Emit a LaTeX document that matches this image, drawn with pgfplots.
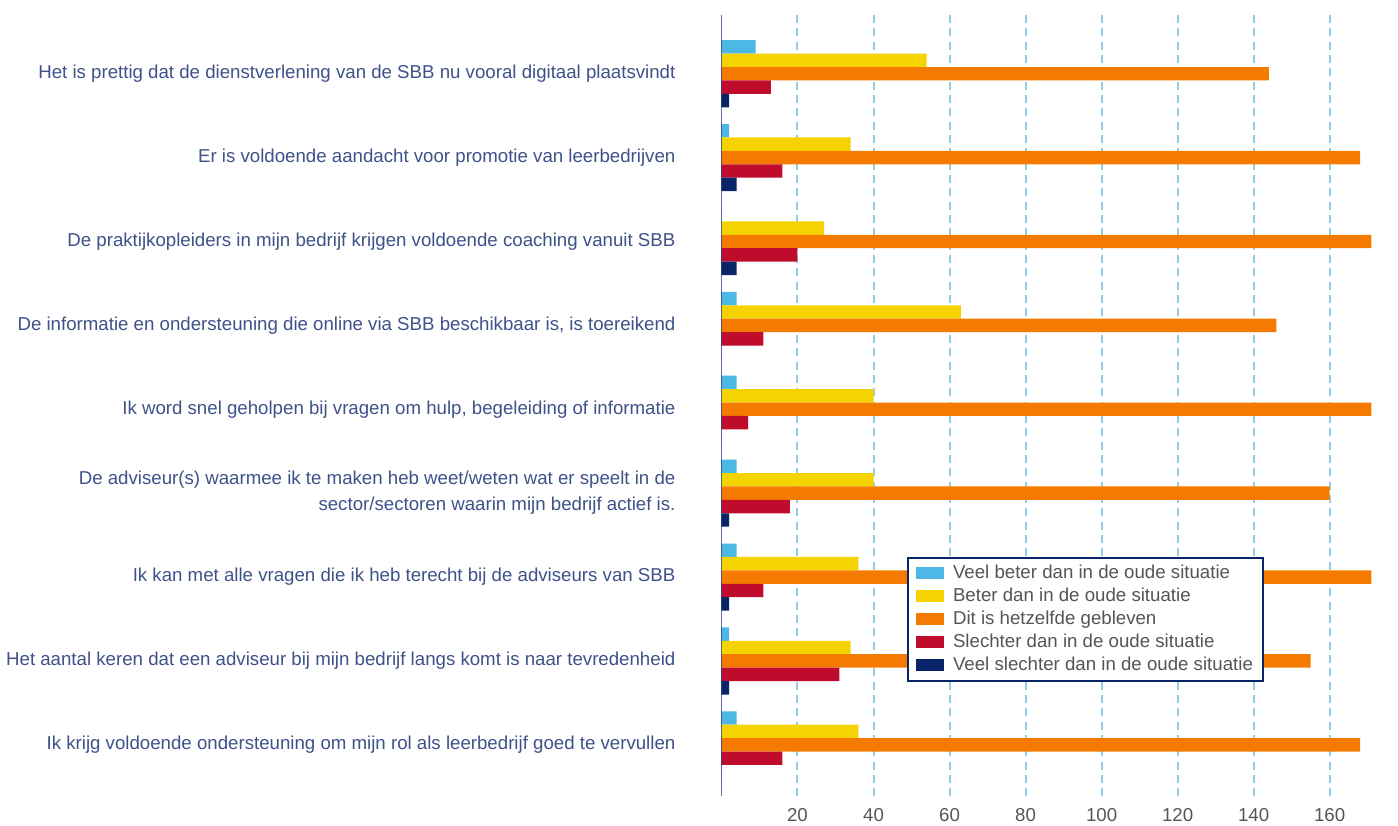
\documentclass[border=0pt]{standalone}
\usepackage{pgfplots}
\pgfplotsset{compat=1.18}
\usepackage{fontspec}
\setmainfont{Liberation Sans}
\definecolor{cBlue}{HTML}{4DB7E6}
\definecolor{cYellow}{HTML}{F5D300}
\definecolor{cOrange}{HTML}{F47B00}
\definecolor{cRed}{HTML}{C00C2C}
\definecolor{cNavy}{HTML}{0A2468}
\definecolor{labelblue}{HTML}{3E5289}
\definecolor{tickgrey}{HTML}{555555}
\definecolor{gridblue}{HTML}{92CDE8}
\begin{document}
\begin{tikzpicture}
\useasboundingbox (0,0) rectangle (1048.5pt,618.75pt);
\begin{axis}[
  at={(541.1pt,21.75pt)}, anchor=south west,
  scale only axis, width=487.5pt, height=585.75pt,
  xbar=0pt, bar width=0.16,
  xmin=0, xmax=171, ymin=-0.70, ymax=8.61, y dir=reverse,
  ytick={0,...,8},
  yticklabels={
    {Het is prettig dat de dienstverlening van de SBB nu vooral digitaal plaatsvindt},
    {Er is voldoende aandacht voor promotie van leerbedrijven},
    {De praktijkopleiders in mijn bedrijf krijgen voldoende coaching vanuit SBB},
    {De informatie en ondersteuning die online via SBB beschikbaar is, is toereikend},
    {Ik word snel geholpen bij vragen om hulp, begeleiding of informatie},
    {De adviseur(s) waarmee ik te maken heb weet/weten wat er speelt in de\\sector/sectoren waarin mijn bedrijf actief is.},
    {Ik kan met alle vragen die ik heb terecht bij de adviseurs van SBB},
    {Het aantal keren dat een adviseur bij mijn bedrijf langs komt is naar tevredenheid},
    {Ik krijg voldoende ondersteuning om mijn rol als leerbedrijf goed te vervullen}
  },
  xtick={20,40,...,160},
  xmajorgrids,
  grid style={gridblue, line width=1.5pt, dash pattern=on 6pt off 4pt},
  axis line style={draw=none},
  major tick length=0pt,
  /pgf/number format/assume math mode=true,
  xticklabel style={font=\fontsize{14}{16}\selectfont, text=tickgrey, yshift=-6pt},
  yticklabel style={font=\fontsize{14}{19.5}\selectfont, text=labelblue, align=right, xshift=-31pt},
  legend style={at={(0.286,0.306)}, anchor=north west, draw=cNavy, line width=1.5pt,
    font=\fontsize{14}{16}\selectfont, text=tickgrey,
    nodes={inner sep=1.5pt, text height=10pt, text depth=3pt},
    row sep=1.25pt, inner xsep=6pt, inner ysep=3.5pt},
  legend cell align=left,
  legend image code/.code={\fill[#1] (0pt,-4.5pt) rectangle (21pt,4.5pt); \path (26pt,0pt);},
]
\addplot[fill=cBlue, draw=none, bar shift=-0.32] coordinates {(9,0) (2,1) (0,2) (4,3) (4,4) (4,5) (4,6) (2,7) (4,8)};
\addplot[fill=cYellow, draw=none, bar shift=-0.16] coordinates {(54,0) (34,1) (27,2) (63,3) (40,4) (40,5) (36,6) (34,7) (36,8)};
\addplot[fill=cOrange, draw=none, bar shift=0] coordinates {(144,0) (168,1) (171,2) (146,3) (171,4) (160,5) (171,6) (155,7) (168,8)};
\addplot[fill=cRed, draw=none, bar shift=0.16] coordinates {(13,0) (16,1) (20,2) (11,3) (7,4) (18,5) (11,6) (31,7) (16,8)};
\addplot[fill=cNavy, draw=none, bar shift=0.32] coordinates {(2,0) (4,1) (4,2) (0,3) (0,4) (2,5) (2,6) (2,7) (0,8)};
\legend{Veel beter dan in de oude situatie, Beter dan in de oude situatie, Dit is hetzelfde gebleven, Slechter dan in de oude situatie, Veel slechter dan in de oude situatie}
\draw[cNavy, line width=1.5pt] (rel axis cs:0,0) -- (rel axis cs:0,1);
\end{axis}
\end{tikzpicture}
\end{document}
